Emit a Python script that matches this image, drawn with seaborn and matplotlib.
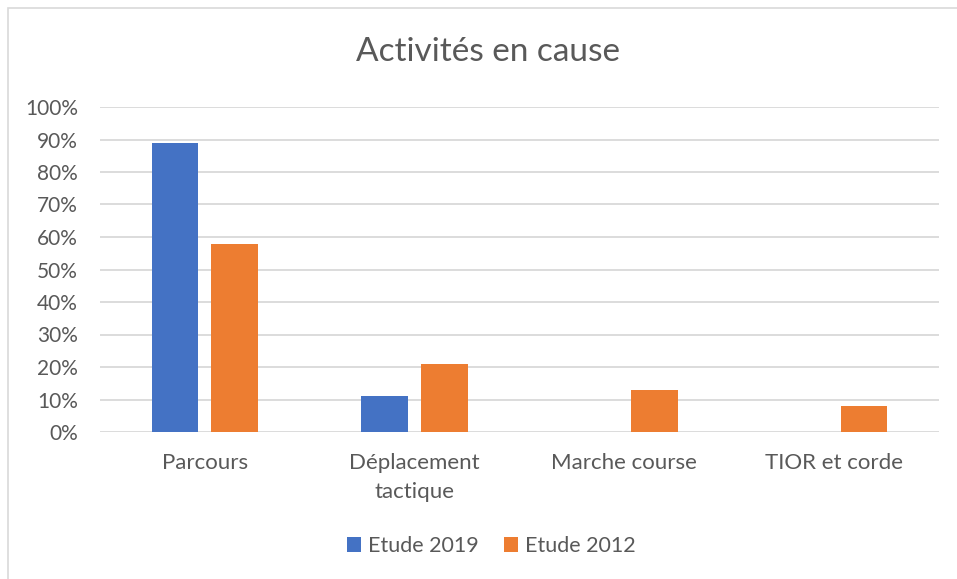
import matplotlib
matplotlib.use("Agg")
import matplotlib.pyplot as plt
import seaborn as sns
import pandas as pd
from matplotlib.patches import Rectangle, Patch
from matplotlib.ticker import PercentFormatter, MultipleLocator

categories = ["Parcours", "Déplacement\ntactique", "Marche course", "TIOR et corde"]
series_names = ["Etude 2019", "Etude 2012"]
etude_2019 = [0.89, 0.11, 0.0, 0.0]
etude_2012 = [0.58, 0.21, 0.13, 0.08]
title = "Activités en cause"
colors = ["#4472C4", "#ED7D31"]

df = pd.DataFrame({
    "cat": categories * 2,
    "serie": [series_names[0]] * 4 + [series_names[1]] * 4,
    "val": etude_2019 + etude_2012,
})

sns.set_theme(style="white")
plt.rcParams["font.family"] = ["Lato", "DejaVu Sans"]
text_color = "#595959"

W, H = 957, 579
fig = plt.figure(figsize=(W / 100, H / 100), dpi=100)
ax = fig.add_axes([100 / W, 1 - 432 / H, (939 - 100) / W, (432 - 107) / H])

sns.barplot(data=df, x="cat", y="val", hue="serie", order=categories,
            hue_order=series_names, palette=colors, saturation=1, width=0.57, gap=0.22,
            linewidth=0, errorbar=None, ax=ax, legend=False, zorder=3)

ax.set_ylim(0, 1.0)
ax.set_xlim(-0.5, 3.5)
ax.yaxis.set_major_locator(MultipleLocator(0.1))
ax.yaxis.set_major_formatter(PercentFormatter(1.0, decimals=0))
ax.grid(axis="y", color="#D9D9D9", linewidth=1.3, zorder=0)
ax.set_axisbelow(True)
for s in ax.spines.values():
    s.set_visible(False)
ax.set_xlabel("")
ax.set_ylabel("")
ax.tick_params(axis="y", length=0, pad=16, labelsize=15, labelcolor=text_color)
ax.tick_params(axis="x", length=0, pad=15, labelsize=16, labelcolor=text_color)
for lbl in ax.get_xticklabels():
    lbl.set_linespacing(1.55)

fig.text(488.5 / W, 1 - 52 / H, title, ha="center", va="center",
         fontsize=24, color=text_color)

handles = [Patch(facecolor=c, edgecolor="none") for c in colors]
fig.legend(handles, series_names, loc="center", bbox_to_anchor=(491.5 / W, 1 - 546 / H),
           ncol=2, frameon=False, fontsize=15.5, labelcolor=text_color,
           handlelength=0.65, handleheight=0.65, handletextpad=0.3, columnspacing=1.2)

fig.patches.append(Rectangle((8 / W, -0.1), 1.2, 1 - 8 / H + 0.1, transform=fig.transFigure,
                             fill=False, edgecolor="#D9D9D9", linewidth=1.2))

fig.savefig("out.png", dpi=100, facecolor="white")
